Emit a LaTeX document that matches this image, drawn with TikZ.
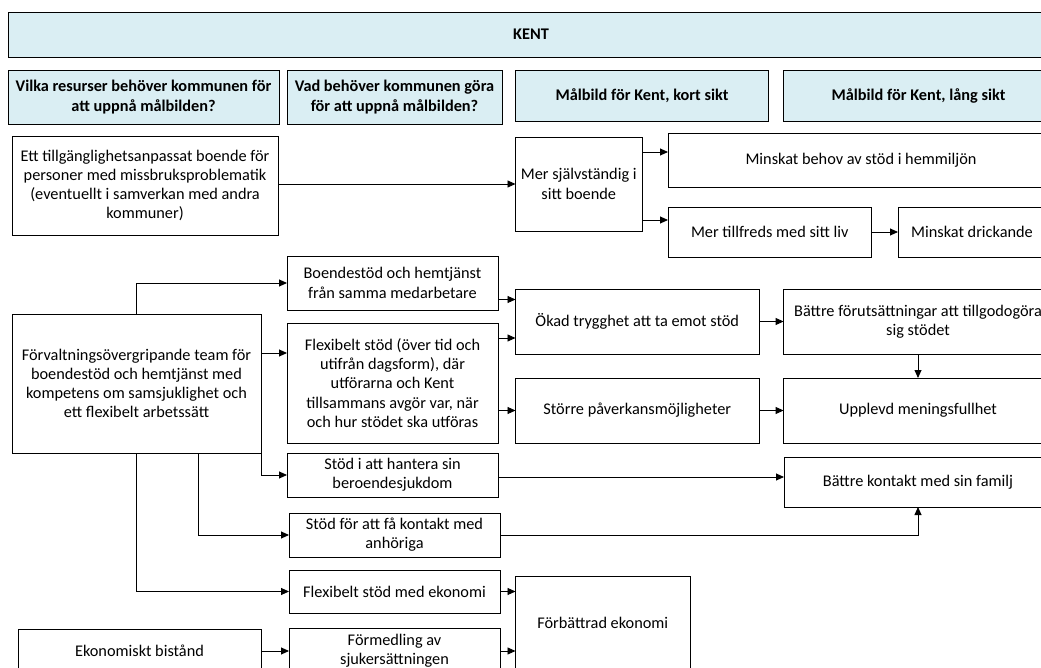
\documentclass[tikz,border=0pt]{standalone}
\usepackage{fontspec}
\setmainfont{Carlito}
\usetikzlibrary{arrows.meta,calc}
\definecolor{hdrfill}{HTML}{DAEEF3}
\begin{document}
\begin{tikzpicture}[x=1pt,y=-1pt,
  box/.style={draw=black,line width=0.9pt,fill=white,inner sep=0pt,outer sep=0pt,align=center,
    font=\fontsize{16.3}{19.2}\selectfont},
  hdr/.style={box,fill=hdrfill,font=\fontsize{16.3}{19.2}\selectfont\bfseries},
  arr/.style={draw=black,line width=0.9pt,-{Triangle[length=8pt,width=7pt]}},
  ln/.style={draw=black,line width=0.9pt}]
\useasboundingbox (0,0) rectangle (1041,668);
\clip (0,0) rectangle (1041,668);
% headers
\node[hdr,minimum width=1046pt,minimum height=45pt] (title) at (531,34.5) {KENT};
\node[hdr,minimum width=271pt,minimum height=54pt] (h1) at (143.5,97) {Vilka resurser behöver kommunen för\\att uppnå målbilden?};
\node[hdr,minimum width=215pt,minimum height=54pt] (h2) at (394.5,97) {Vad behöver kommunen göra\\för att uppnå målbilden?};
\node[hdr,minimum width=253pt,minimum height=51pt] (h3) at (642,95.5) {Målbild för Kent, kort sikt};
\node[hdr,minimum width=271pt,minimum height=51pt] (h4) at (918.5,95.5) {Målbild för Kent, lång sikt};
% row 1
\node[box,minimum width=266pt,minimum height=99pt] (A) at (145,185.5) {Ett tillgänglighetsanpassat boende för\\personer med missbruksproblematik\\(eventuellt i samverkan med andra\\kommuner)};
\node[box,minimum width=126.5pt,minimum height=94pt] (mer) at (578.75,184) {Mer självständig i\\sitt boende};
\node[box,minimum width=386pt,minimum height=54pt] (beh) at (861,160) {Minskat behov av stöd i hemmiljön};
\node[box,minimum width=203.6pt,minimum height=50pt] (tillf) at (769.8,232) {Mer tillfreds med sitt liv};
\node[box,minimum width=148pt,minimum height=50pt] (drick) at (972,232) {Minskat drickande};
% left column
\node[box,minimum width=249pt,minimum height=139pt] (forv) at (136.5,383.5) {Förvaltningsövergripande team för\\boendestöd och hemtjänst med\\kompetens om samsjuklighet och\\ett flexibelt arbetssätt};
\node[box,minimum width=243pt,minimum height=44pt] (ekb) at (139.5,651) {Ekonomiskt bistånd};
% middle column
\node[box,minimum width=211pt,minimum height=54pt] (boende) at (392.5,283) {Boendestöd och hemtjänst\\från samma medarbetare};
\node[box,minimum width=211pt,minimum height=120pt] (flex) at (392.5,383) {Flexibelt stöd (över tid och\\utifrån dagsform), där\\utförarna och Kent\\tillsammans avgör var, när\\och hur stödet ska utföras};
\node[box,minimum width=211pt,minimum height=44pt] (hant) at (392.5,475) {Stöd i att hantera sin\\beroendesjukdom};
\node[box,minimum width=211pt,minimum height=44pt] (anh) at (394.5,535) {Stöd för att få kontakt med\\anhöriga};
\node[box,minimum width=211pt,minimum height=43pt] (flexek) at (394.5,591.5) {Flexibelt stöd med ekonomi};
\node[box,minimum width=211pt,minimum height=46pt] (form) at (394.5,651) {Förmedling av\\sjukersättningen};
% short term
\node[box,minimum width=243.5pt,minimum height=65pt] (okad) at (637.25,321.5) {Ökad trygghet att ta emot stöd};
\node[box,minimum width=243.5pt,minimum height=65pt] (stor) at (637.25,410.5) {Större påverkansmöjligheter};
\node[box,minimum width=174.5pt,minimum height=94pt] (forb) at (602.75,623) {Förbättrad ekonomi};
% long term
\node[box,minimum width=268.8pt,minimum height=65pt] (bf) at (918,321.5) {Bättre förutsättningar att tillgodogöra\\sig stödet};
\node[box,minimum width=268.8pt,minimum height=65pt] (upp) at (918,410.5) {Upplevd meningsfullhet};
\node[box,minimum width=268pt,minimum height=50pt] (bk) at (918,482) {Bättre kontakt med sin familj};
% connectors
\draw[arr] (A.east |- mer.west) -- (mer.west);
\draw[arr] (mer.east |- 0,152) -- (beh.west |- 0,152);
\draw[arr] (mer.east |- 0,220) -- (tillf.west |- 0,220);
\draw[arr] (tillf.east) -- (drick.west);
\draw[arr] (forv.north) |- (boende.west);
\draw[arr] (forv.east |- 0,353) -- (flex.west |- 0,353);
\draw[arr] (forv.east |- 0,428) |- (hant.west);
\draw[arr] (forv.south -| 198,0) |- (anh.west);
\draw[arr] (forv.south) |- (flexek.west);
\draw[arr] (ekb.east) -- (form.west);
\draw[arr] (boende.east |- 0,299.5) -- (okad.west |- 0,299.5);
\draw[arr] (flex.east |- 0,338) -- (okad.west |- 0,338);
\draw[arr] (flex.east |- stor.west) -- (stor.west);
\draw[arr] (okad.east) -- (bf.west);
\draw[arr] (stor.east) -- (upp.west);
\draw[arr] (bf.south) -- (upp.north);
\draw[arr] (hant.east |- 0,477) -- (bk.west |- 0,477);
\draw[arr] (anh.east) -| (bk.south);
\draw[arr] (flexek.east) -- (forb.west |- flexek.east);
\draw[arr] (form.east) -- (forb.west |- form.east);
\end{tikzpicture}
\end{document}
